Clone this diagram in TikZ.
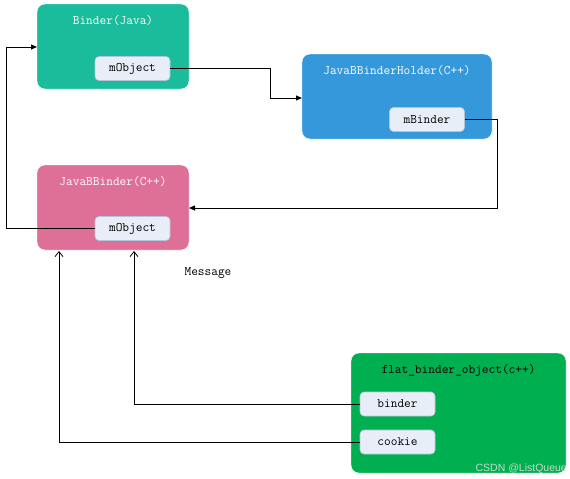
\documentclass[tikz,border=0pt]{standalone}
\usepackage{fontspec}
\setsansfont{Liberation Sans}
\usetikzlibrary{arrows.meta}
\definecolor{cteal}{HTML}{1ABC9C}
\definecolor{cblue}{HTML}{3498DB}
\definecolor{cpink}{HTML}{DE6F96}
\definecolor{cgreen}{HTML}{00B050}
\definecolor{cinner}{HTML}{E8EEF8}
\definecolor{cinnerb}{HTML}{B4C4DC}
\definecolor{cwm}{HTML}{C8D8CC}
\tikzset{
  inner/.style={rounded corners=4pt, fill=cinner, draw=cinnerb, line width=0.6pt, minimum width=75pt, minimum height=24pt, inner sep=0pt, font=\ttfamily\fontsize{13}{14}\selectfont},
  ttl/.style={font=\ttfamily\fontsize{13}{14}\selectfont, inner sep=0pt, anchor=base},
  conn/.style={line width=0.8pt, black},
  fillarr/.style={conn, -{Triangle[length=6pt,width=5pt]}},
  openarr/.style={conn, -{Straight Barb[length=5pt,width=8pt]}},
}
\begin{document}
\begin{tikzpicture}[x=1pt,y=-1pt]
\useasboundingbox (0,0) rectangle (570,479);
\fill[white] (0,0) rectangle (570,479);
% boxes
\filldraw[fill=cteal, draw=white, rounded corners=8pt] (37,4) rectangle (189,89);
\node (bj) at (113,46.5) [minimum width=152pt, minimum height=85pt, inner sep=0pt] {};
\node[ttl, text=white] (bjt) at (113,24) {Binder(Java)};
\node[inner] (bjm) at (132.5,68.5) {mObject};

\filldraw[fill=cblue, draw=white, rounded corners=8pt] (302,54) rectangle (492,139);
\node (hd) at (397,96.5) [minimum width=190pt, minimum height=85pt, inner sep=0pt] {};
\node[ttl, text=white] (hdt) at (397,74) {JavaBBinderHolder(C++)};
\node[inner] (hdm) at (427,119.5) {mBinder};

\filldraw[fill=cpink, draw=white, rounded corners=8pt] (37,165) rectangle (189,250);
\node (jb) at (113,207.5) [minimum width=152pt, minimum height=85pt, inner sep=0pt] {};
\node[ttl, text=white] (jbt) at (113,185) {JavaBBinder(C++)};
\node[inner] (jbm) at (132.5,228.5) {mObject};

\filldraw[fill=cgreen, draw=white, rounded corners=8pt] (351,353) rectangle (566,473);
\node (fb) at (458.5,413) [minimum width=215pt, minimum height=120pt, inner sep=0pt] {};
\node[ttl, text=black] (fbt) at (458.5,373) {flat\_binder\_object(c++)};
\node[inner] (fbb) at (397.5,404) {binder};
\node[inner] (fbc) at (397.5,442) {cookie};

\node[ttl] (msg) at (208,275) {Message};
\node[font=\sffamily\fontsize{10.5}{12}\selectfont, text=cwm, anchor=base east, inner sep=0pt] (wm) at (567,471) {CSDN @ListQueue};

% connectors
\coordinate (bjl) at (37,47);
\draw[fillarr] (jbm.west) -- (6,228.5) -- (6,47) -- (bjl);
\coordinate (hdl) at (302,98);
\draw[fillarr] (bjm.east) -- (270,68.5) -- (270,98) -- (hdl);
\coordinate (jbr) at (189,208);
\draw[fillarr] (hdm.east) -- (497,119.5) -- (497,208) -- (jbr);
\coordinate (jbb1) at (134,251);
\draw[openarr] (fbb.west) -- (134,404) -- (jbb1);
\coordinate (jbb2) at (59,251);
\draw[openarr] (fbc.west) -- (59,442) -- (jbb2);
\end{tikzpicture}
\end{document}
